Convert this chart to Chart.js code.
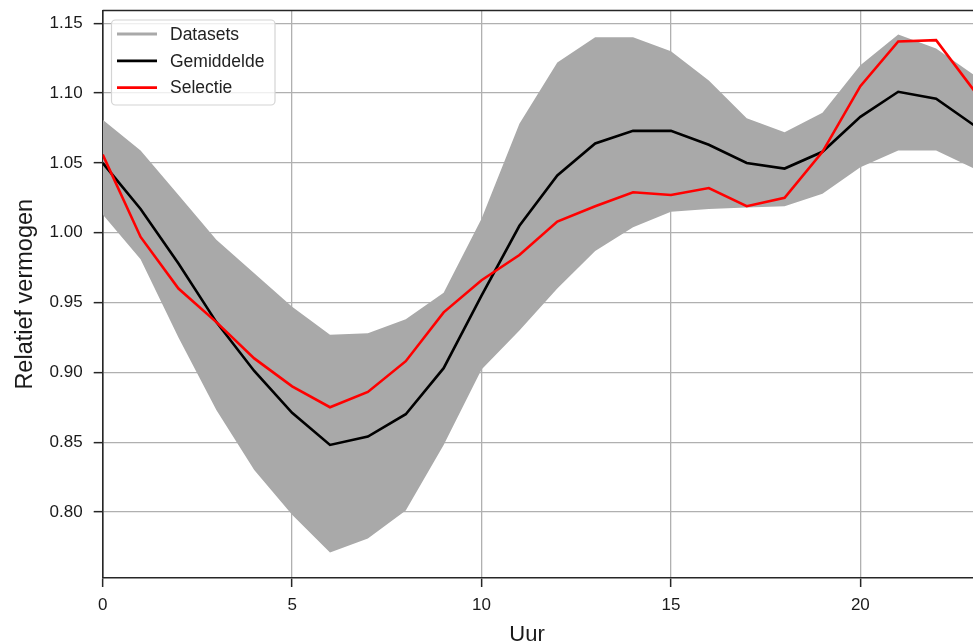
<!DOCTYPE html>
<html>
<head>
<meta charset="utf-8">
<title>Relatief vermogen per uur</title>
<script src="https://cdn.jsdelivr.net/npm/chart.js@4.4.1/dist/chart.umd.min.js"></script>
<style>
    html, body { margin: 0; padding: 0; background: #fff; overflow: hidden; }
    #wrap { width: 974px; height: 644px; }
</style>
</head>
<body>
<div id="wrap"><canvas id="chart" width="974" height="644"></canvas></div>
<script>
// Hours on the x axis
const hours = [0, 1, 2, 3, 4, 5, 6, 7, 8, 9, 10, 11, 12, 13, 14, 15, 16, 17, 18, 19, 20, 21, 22, 23];

// Spread of all datasets (upper and lower edge of the grey band)
const bandUpper = [1.081, 1.059, 1.027, 0.995, 0.971, 0.947, 0.927, 0.928, 0.938, 0.957, 1.010, 1.078,
                   1.122, 1.140, 1.140, 1.130, 1.109, 1.082, 1.072, 1.086, 1.120, 1.142, 1.132, 1.113];
const bandLower = [1.013, 0.981, 0.925, 0.873, 0.830, 0.798, 0.771, 0.781, 0.801, 0.848, 0.902, 0.930,
                   0.960, 0.987, 1.004, 1.015, 1.017, 1.018, 1.019, 1.028, 1.047, 1.059, 1.059, 1.046];

// Mean and selected profile
const gemiddelde = [1.050, 1.017, 0.978, 0.936, 0.901, 0.871, 0.848, 0.854, 0.870, 0.903, 0.955, 1.005,
                    1.041, 1.064, 1.073, 1.073, 1.063, 1.050, 1.046, 1.058, 1.083, 1.101, 1.096, 1.077];
const selectie = [1.056, 0.997, 0.960, 0.936, 0.910, 0.890, 0.875, 0.886, 0.908, 0.943, 0.966, 0.984,
                  1.008, 1.019, 1.029, 1.027, 1.032, 1.019, 1.025, 1.058, 1.105, 1.137, 1.138, 1.102];

// Tick labels
const xTicks = [0, 5, 10, 15, 20];
const yTicks = [0.80, 0.85, 0.90, 0.95, 1.00, 1.05, 1.10, 1.15];

const xTitle = 'Uur';
const yTitle = 'Relatief vermogen';

const FONT = "'Liberation Sans', Arial, Helvetica, sans-serif";
const BAND_COLOR = '#a9a9a9';
const AXIS_COLOR = '#262626';

const toPoints = (values) => hours.map((h, i) => ({ x: h, y: values[i] }));

// Top spine, axis titles and the legend box inside the plot
const decorations = {
    id: 'decorations',
    afterDraw(chart) {
        const { ctx, chartArea } = chart;
        ctx.save();

        // top spine
        ctx.strokeStyle = AXIS_COLOR;
        ctx.lineWidth = 1.6;
        ctx.beginPath();
        ctx.moveTo(chartArea.left, chartArea.top);
        ctx.lineTo(chartArea.right, chartArea.top);
        ctx.stroke();

        // axis titles
        ctx.fillStyle = '#1a1a1a';
        ctx.font = `22px ${FONT}`;
        ctx.textAlign = 'center';
        ctx.textBaseline = 'alphabetic';
        ctx.fillText(xTitle, 527, 641);

        ctx.save();
        ctx.font = `23.5px ${FONT}`;
        ctx.translate(31.5, (chartArea.top + chartArea.bottom) / 2);
        ctx.rotate(-Math.PI / 2);
        ctx.fillText(yTitle, 0, 0);
        ctx.restore();

        // legend
        const items = chart.data.datasets.filter(ds => ds.inLegend);
        const box = { x: 111.5, y: 20, w: 163.5, h: 85 };
        ctx.fillStyle = 'rgba(255,255,255,0.8)';
        ctx.strokeStyle = '#d4d4d4';
        ctx.lineWidth = 1.2;
        ctx.beginPath();
        ctx.roundRect(box.x, box.y, box.w, box.h, 4);
        ctx.fill();
        ctx.stroke();

        ctx.font = `17.5px ${FONT}`;
        ctx.textAlign = 'left';
        ctx.textBaseline = 'middle';
        items.forEach((ds, i) => {
            const rowY = 34 + i * 26.8;
            ctx.strokeStyle = ds.legendColor;
            ctx.lineWidth = 2.8;
            ctx.beginPath();
            ctx.moveTo(117, rowY);
            ctx.lineTo(157, rowY);
            ctx.stroke();
            ctx.fillStyle = '#222';
            ctx.fillText(ds.label, 170, rowY + 1);
        });

        ctx.restore();
    }
};

const ctx = document.getElementById('chart').getContext('2d');
new Chart(ctx, {
    type: 'line',
    data: {
        datasets: [
            {
                label: 'Datasets',
                data: toPoints(bandUpper),
                borderColor: 'rgba(0,0,0,0)',
                borderWidth: 0,
                backgroundColor: BAND_COLOR,
                fill: '+1',
                pointRadius: 0,
                tension: 0,
                order: 3,
                inLegend: true,
                legendColor: BAND_COLOR
            },
            {
                label: 'Datasets (onder)',
                data: toPoints(bandLower),
                borderColor: 'rgba(0,0,0,0)',
                borderWidth: 0,
                fill: false,
                pointRadius: 0,
                tension: 0,
                order: 4
            },
            {
                label: 'Gemiddelde',
                data: toPoints(gemiddelde),
                borderColor: '#000000',
                borderWidth: 2.6,
                fill: false,
                pointRadius: 0,
                tension: 0,
                order: 1,
                inLegend: true,
                legendColor: '#000000'
            },
            {
                label: 'Selectie',
                data: toPoints(selectie),
                borderColor: '#ff0000',
                borderWidth: 2.6,
                fill: false,
                pointRadius: 0,
                tension: 0,
                order: 0,
                inLegend: true,
                legendColor: '#ff0000'
            }
        ]
    },
    options: {
        responsive: false,
        animation: false,
        events: [],
        layout: { padding: { top: 10.5, right: 0, left: 0, bottom: 0 } },
        plugins: {
            legend: { display: false },
            tooltip: { enabled: false }
        },
        scales: {
            x: {
                type: 'linear',
                min: 0,
                max: 23,
                afterFit: (scale) => {
                    scale.height = 66;
                    scale.paddingLeft = 0;
                    scale.paddingRight = 0;
                },
                afterBuildTicks: (scale) => { scale.ticks = xTicks.map(v => ({ value: v })); },
                grid: {
                    color: '#b0b0b0',
                    lineWidth: 1.3,
                    tickColor: AXIS_COLOR,
                    tickWidth: 1.5,
                    tickLength: 9
                },
                border: { color: AXIS_COLOR, width: 1.6 },
                ticks: {
                    color: '#1a1a1a',
                    font: { family: FONT, size: 17 },
                    padding: 8,
                    maxRotation: 0,
                    callback: (v) => String(v)
                }
            },
            y: {
                type: 'linear',
                min: 0.7527,
                max: 1.1592,
                afterFit: (scale) => {
                    scale.width = 102.7;
                    scale.paddingTop = 0;
                    scale.paddingBottom = 0;
                },
                afterBuildTicks: (scale) => { scale.ticks = yTicks.map(v => ({ value: v })); },
                grid: {
                    color: '#b0b0b0',
                    lineWidth: 1.3,
                    tickColor: AXIS_COLOR,
                    tickWidth: 1.5,
                    tickLength: 9
                },
                border: { color: AXIS_COLOR, width: 1.6 },
                ticks: {
                    color: '#1a1a1a',
                    font: { family: FONT, size: 17 },
                    padding: 11,
                    callback: (v) => Number(v).toFixed(2)
                }
            }
        }
    },
    plugins: [decorations]
});
</script>
</body>
</html>
